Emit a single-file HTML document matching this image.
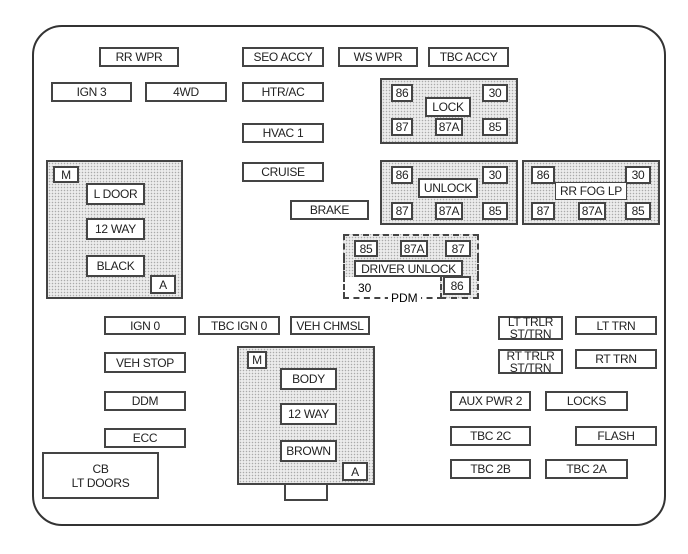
<!DOCTYPE html>
<html><head><style>
body{margin:0;width:688px;height:554px;background:#fff;position:relative;overflow:hidden;font-family:"Liberation Sans",sans-serif;}
.o{position:absolute;left:32px;top:25px;width:630px;height:497px;border:2px solid #333;border-radius:30px;}
.b{position:absolute;box-sizing:border-box;border:2px solid #444;background:#fff;font-size:12px;color:#222;display:flex;align-items:center;justify-content:center;text-align:center;line-height:12px;letter-spacing:-0.3px;}
.s{position:absolute;box-sizing:border-box;border:2px solid #444;background-color:#ececec;background-image:radial-gradient(#aaa 0.6px,transparent 0.9px);background-size:3px 3px;}
</style></head><body>
<div class="o"></div>
<div class="b" style="left:99px;top:47px;width:80px;height:20px">RR WPR</div>
<div class="b" style="left:242px;top:47px;width:82px;height:20px">SEO ACCY</div>
<div class="b" style="left:338px;top:47px;width:80px;height:20px">WS WPR</div>
<div class="b" style="left:428px;top:47px;width:81px;height:20px">TBC ACCY</div>
<div class="b" style="left:51px;top:82px;width:81px;height:20px">IGN 3</div>
<div class="b" style="left:145px;top:82px;width:82px;height:20px">4WD</div>
<div class="b" style="left:242px;top:82px;width:82px;height:20px">HTR/AC</div>
<div class="b" style="left:242px;top:123px;width:82px;height:20px">HVAC 1</div>
<div class="b" style="left:242px;top:162px;width:82px;height:20px">CRUISE</div>
<div class="b" style="left:290px;top:200px;width:79px;height:20px">BRAKE</div>

<div class="s" style="left:380px;top:78px;width:138px;height:66px"></div>
<div class="b" style="left:391px;top:84px;width:22px;height:18px">86</div>
<div class="b" style="left:482px;top:84px;width:26px;height:18px">30</div>
<div class="b" style="left:425px;top:97px;width:46px;height:20px">LOCK</div>
<div class="b" style="left:391px;top:118px;width:22px;height:18px">87</div>
<div class="b" style="left:435px;top:118px;width:28px;height:18px">87A</div>
<div class="b" style="left:482px;top:118px;width:26px;height:18px">85</div>

<div class="s" style="left:380px;top:160px;width:138px;height:65px"></div>
<div class="b" style="left:391px;top:166px;width:22px;height:18px">86</div>
<div class="b" style="left:482px;top:166px;width:26px;height:18px">30</div>
<div class="b" style="left:418px;top:178px;width:60px;height:20px">UNLOCK</div>
<div class="b" style="left:391px;top:202px;width:22px;height:18px">87</div>
<div class="b" style="left:435px;top:202px;width:28px;height:18px">87A</div>
<div class="b" style="left:482px;top:202px;width:26px;height:18px">85</div>

<div class="s" style="left:522px;top:160px;width:138px;height:65px"></div>
<div class="b" style="left:531px;top:166px;width:24px;height:18px">86</div>
<div class="b" style="left:625px;top:166px;width:26px;height:18px">30</div>
<div class="b" style="left:555px;top:182px;width:72px;height:18px;border-width:1px">RR FOG LP</div>
<div class="b" style="left:531px;top:202px;width:24px;height:18px">87</div>
<div class="b" style="left:578px;top:202px;width:28px;height:18px">87A</div>
<div class="b" style="left:625px;top:202px;width:26px;height:18px">85</div>

<div class="s" style="left:343px;top:234px;width:136px;height:25px;border-style:dashed;border-bottom:none"></div>
<div class="s" style="left:343px;top:257px;width:136px;height:20px;border:none;border-left:2px dashed #444;border-right:2px dashed #444"></div>
<div class="s" style="left:440px;top:275px;width:39px;height:24px;border-style:dashed;border-top:none"></div>
<div style="position:absolute;left:343px;top:276px;width:2px;height:22px;border-left:2px dashed #444"></div>
<div style="position:absolute;left:343px;top:297px;width:100px;border-top:2px dashed #444"></div>
<div class="b" style="left:354px;top:240px;width:24px;height:17px">85</div>
<div class="b" style="left:400px;top:240px;width:28px;height:17px">87A</div>
<div class="b" style="left:445px;top:240px;width:26px;height:17px">87</div>
<div class="b" style="left:354px;top:260px;width:109px;height:17px">DRIVER UNLOCK</div>
<div class="b" style="left:443px;top:276px;width:28px;height:19px">86</div>
<div style="position:absolute;left:358px;top:281px;font-size:12px;background:#fff">30</div>
<div style="position:absolute;left:388px;top:291px;font-size:12px;background:#fff;padding:0 3px">PDM</div>

<div class="s" style="left:46px;top:160px;width:137px;height:139px"></div>
<div class="b" style="left:53px;top:166px;width:26px;height:17px">M</div>
<div class="b" style="left:86px;top:183px;width:59px;height:22px">L DOOR</div>
<div class="b" style="left:86px;top:218px;width:59px;height:22px">12 WAY</div>
<div class="b" style="left:86px;top:255px;width:59px;height:22px">BLACK</div>
<div class="b" style="left:150px;top:275px;width:26px;height:19px">A</div>

<div class="b" style="left:104px;top:316px;width:82px;height:19px">IGN 0</div>
<div class="b" style="left:198px;top:316px;width:82px;height:19px">TBC IGN 0</div>
<div class="b" style="left:290px;top:316px;width:80px;height:19px">VEH CHMSL</div>
<div class="b" style="left:104px;top:352px;width:82px;height:21px">VEH STOP</div>
<div class="b" style="left:104px;top:391px;width:82px;height:20px">DDM</div>
<div class="b" style="left:104px;top:428px;width:82px;height:20px">ECC</div>
<div class="b" style="left:42px;top:452px;width:117px;height:47px;line-height:14px">CB<br>LT DOORS</div>

<div class="s" style="left:237px;top:346px;width:138px;height:139px"></div>
<div class="b" style="left:247px;top:351px;width:20px;height:18px">M</div>
<div class="b" style="left:280px;top:368px;width:57px;height:22px">BODY</div>
<div class="b" style="left:280px;top:403px;width:57px;height:22px">12 WAY</div>
<div class="b" style="left:280px;top:440px;width:57px;height:22px">BROWN</div>
<div class="b" style="left:342px;top:462px;width:26px;height:19px">A</div>
<div style="position:absolute;left:284px;top:484px;width:40px;height:15px;border:2px solid #444;border-top:none"></div>

<div class="b" style="left:498px;top:316px;width:65px;height:24px;line-height:12px">LT TRLR<br>ST/TRN</div>
<div class="b" style="left:575px;top:316px;width:82px;height:19px">LT TRN</div>
<div class="b" style="left:498px;top:349px;width:65px;height:25px;line-height:12px">RT TRLR<br>ST/TRN</div>
<div class="b" style="left:575px;top:349px;width:82px;height:20px">RT TRN</div>
<div class="b" style="left:450px;top:391px;width:81px;height:20px">AUX PWR 2</div>
<div class="b" style="left:545px;top:391px;width:83px;height:20px">LOCKS</div>
<div class="b" style="left:450px;top:426px;width:81px;height:20px">TBC 2C</div>
<div class="b" style="left:575px;top:426px;width:82px;height:20px">FLASH</div>
<div class="b" style="left:450px;top:459px;width:81px;height:20px">TBC 2B</div>
<div class="b" style="left:545px;top:459px;width:83px;height:20px">TBC 2A</div>
</body></html>
